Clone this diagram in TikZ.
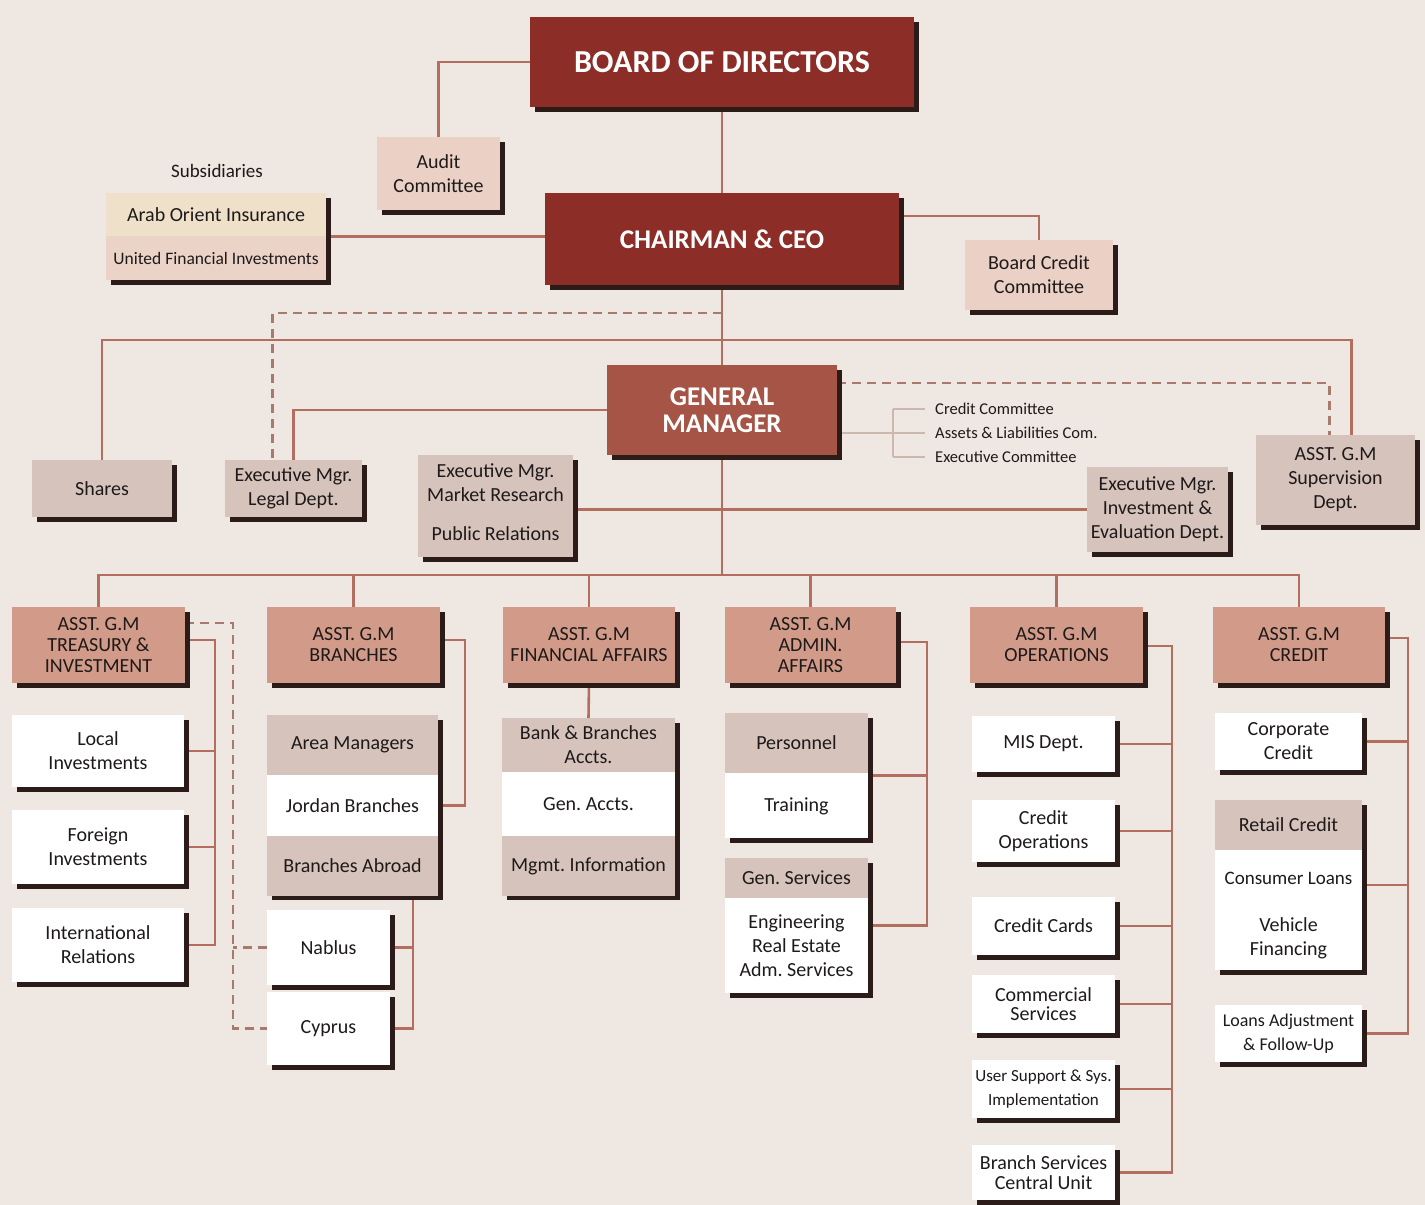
\documentclass[tikz,border=0pt]{standalone}
\usepackage{fontspec}
\setmainfont{Carlito}
\frenchspacing
\usepackage{tikz}
\usetikzlibrary{positioning, shadows, backgrounds}
\usepackage{xcolor}
\definecolor{bgc}{HTML}{EFE7E1}
\definecolor{boardred}{HTML}{8C2D28}
\definecolor{gmred}{HTML}{A65446}
\definecolor{asstc}{HTML}{D29B89}
\definecolor{lpink}{HTML}{EAD0C5}
\definecolor{greyp}{HTML}{D6C3BC}
\definecolor{subsY}{HTML}{EEE0C9}
\definecolor{subsP}{HTML}{ECD3C8}
\definecolor{linec}{HTML}{B46E5F}
\definecolor{dashc}{HTML}{A87A6E}
\definecolor{commc}{HTML}{CDB8AF}
\definecolor{shadc}{HTML}{2B1C19}
\definecolor{inkc}{HTML}{1E1A1A}
\tikzset{
    % Colors
    fillBoard/.style={fill=boardred},
    fillGM/.style={fill=gmred},
    fillPink/.style={fill=lpink},
    fillGrey/.style={fill=greyp},
    fillWhite/.style={fill=white},
    % Shapes
    orgbox/.style={rectangle, inner sep=2pt, align=center, text=inkc,
                   font=\fontsize{20}{24}\selectfont,
                   drop shadow={shadow xshift=5pt, shadow yshift=-5pt, opacity=1, fill=shadc}},
    headbox/.style={orgbox, fillBoard, text=white, font=\fontsize{27}{27}\selectfont\bfseries},
    asstbox/.style={orgbox, fill=asstc, minimum height=76, font=\fontsize{20}{21}\selectfont},
    unitbox/.style={orgbox, fillWhite},
    grpbox/.style={orgbox, fillWhite},
    cellbox/.style={rectangle, inner sep=2pt, align=center, text=inkc,
                    font=\fontsize{20}{24}\selectfont, minimum width=#1},
    cellbox/.default=150,
    comtext/.style={inner sep=2pt, text=inkc, font=\fontsize{16.5}{18}\selectfont},
    % Connectors
    conn/.style={draw=linec, line width=2.6pt},
    dconn/.style={draw=dashc, line width=2.6pt, dash pattern=on 9pt off 6pt},
    cconn/.style={draw=commc, line width=1.3pt}
}
\begin{document}
\begin{tikzpicture}[x=1pt, y=-1pt]
\useasboundingbox (0,0) rectangle (1425,1205);
\begin{scope}[on background layer]
    \fill[bgc] (0,0) rectangle (1425,1205);
\end{scope}

% board, chairman, general manager
\node[headbox, minimum width=384, minimum height=90, font=\fontsize{32}{32}\selectfont\bfseries] (board) at (722,62) {BOARD OF DIRECTORS};
\node[headbox, minimum width=354, minimum height=92] (chair) at (722,239) {CHAIRMAN \& CEO};
\node[headbox, fillGM, minimum width=230, minimum height=90] (gm) at (722,410) {GENERAL\\MANAGER};
\node[orgbox, fillPink, minimum width=123, minimum height=73] (audit) at (438.5,173.5) {Audit\\Committee};
\node[orgbox, fillPink, minimum width=148, minimum height=70] (bcc) at (1039,275) {Board Credit\\Committee};

% subsidiaries
\node[text=inkc, font=\fontsize{19}{19}\selectfont] (subslbl) at (217,171) {Subsidiaries};
\node[grpbox, minimum width=220, minimum height=87] (subs) at (216,236.5) {};
\node[cellbox=220, fill=subsY, minimum height=43, anchor=north] (aoi) at (subs.north) {Arab Orient Insurance};
\node[cellbox=220, fill=subsP, minimum height=44, below=0pt of aoi, font=\fontsize{17.5}{20}\selectfont] (ufi) {United Financial Investments};

% staff units
\node[orgbox, fillGrey, minimum width=140, minimum height=57] (shares) at (102,488.5) {Shares};
\node[orgbox, fillGrey, minimum width=137, minimum height=57] (legal) at (293.5,488.5) {Executive Mgr.\\Legal Dept.};
\node[grpbox, fillGrey, minimum width=155, minimum height=102] (mr) at (495.5,506) {};
\node[cellbox=155, minimum height=55, anchor=north] (mktres) at (mr.north) {Executive Mgr.\\Market Research};
\node[cellbox=155, minimum height=47, below=0pt of mktres] (pubrel) {Public Relations};
\node[orgbox, fillGrey, minimum width=141, minimum height=85] (inv) at (1157.5,509.5) {Executive Mgr.\\Investment \&\\Evaluation Dept.};
\node[orgbox, fillGrey, minimum width=159, minimum height=90] (sup) at (1335.5,480) {ASST. G.M\\Supervision\\Dept.};

\node[comtext, anchor=west] (ccom) at (933,409) {Credit Committee};
\node[comtext, anchor=west] (alcom) at (933,433) {Assets \& Liabilities Com.};
\node[comtext, anchor=west] (excom) at (933,457) {Executive Committee};

% assistant general managers
\node[asstbox, minimum width=173] (tre) at (98.5,645) {ASST. G.M\\TREASURY \&\\INVESTMENT};
\node[asstbox, minimum width=173] (bra) at (353.5,645) {ASST. G.M\\BRANCHES};
\node[asstbox, minimum width=172] (fin) at (589,645) {ASST. G.M\\FINANCIAL AFFAIRS};
\node[asstbox, minimum width=171] (adm) at (810.5,645) {ASST. G.M\\ADMIN.\\AFFAIRS};
\node[asstbox, minimum width=173] (ops) at (1056.5,645) {ASST. G.M\\OPERATIONS};
\node[asstbox, minimum width=172] (cre) at (1299,645) {ASST. G.M\\CREDIT};

% treasury
\node[unitbox, minimum width=172, minimum height=72] (local) at (98,751) {Local\\Investments};
\node[unitbox, minimum width=172, minimum height=74] (foreign) at (98,847) {Foreign\\Investments};
\node[unitbox, minimum width=172, minimum height=74] (intl) at (98,945) {International\\Relations};

% branches
\node[grpbox, minimum width=171, minimum height=180] (brgrp) at (352.5,805) {};
\node[cellbox=171, fillGrey, minimum height=60, anchor=north] (areamgr) at (brgrp.north) {Area Managers};
\node[cellbox=171, minimum height=60, below=0pt of areamgr] (jordan) {Jordan Branches};
\node[cellbox=171, fillGrey, minimum height=60, below=0pt of jordan] (abroad) {Branches Abroad};
\node[unitbox, minimum width=123, minimum height=75] (nablus) at (328.5,947.5) {Nablus};
\node[unitbox, minimum width=123, minimum height=73] (cyprus) at (328.5,1028.5) {Cyprus};

% financial affairs
\node[grpbox, minimum width=173, minimum height=177] (fingrp) at (588.5,806.5) {};
\node[cellbox=173, fillGrey, minimum height=54, anchor=north] (bbacc) at (fingrp.north) {Bank \& Branches\\Accts.};
\node[cellbox=173, minimum height=63, below=0pt of bbacc] (genacc) {Gen. Accts.};
\node[cellbox=173, fillGrey, minimum height=60, below=0pt of genacc] (mgmtinf) {Mgmt. Information};

% admin affairs
\node[grpbox, minimum width=143, minimum height=125] (adm1) at (796.5,775.5) {};
\node[cellbox=143, fillGrey, minimum height=60, anchor=north] (pers) at (adm1.north) {Personnel};
\node[cellbox=143, minimum height=65, below=0pt of pers] (train) {Training};
\node[grpbox, minimum width=143, minimum height=135] (adm2) at (796.5,925.5) {};
\node[cellbox=143, fillGrey, minimum height=40, anchor=north] (gensrv) at (adm2.north) {Gen. Services};
\node[cellbox=143, minimum height=95, below=0pt of gensrv] (engsrv) {Engineering\\Real Estate\\Adm. Services};

% operations
\node[unitbox, minimum width=143, minimum height=56] (mis) at (1043.5,744) {MIS Dept.};
\node[unitbox, minimum width=143, minimum height=62] (crop) at (1043.5,831) {Credit\\Operations};
\node[unitbox, minimum width=143, minimum height=58] (ccard) at (1043.5,926) {Credit Cards};
\node[unitbox, minimum width=143, minimum height=58, font=\fontsize{20}{19}\selectfont] (comm) at (1043.5,1004) {Commercial\\Services};
\node[unitbox, minimum width=143, minimum height=58, font=\fontsize{17}{24}\selectfont] (usup) at (1043.5,1089) {User Support \& Sys.\\Implementation};
\node[unitbox, minimum width=143, minimum height=55, font=\fontsize{20}{20}\selectfont] (bscu) at (1043.5,1172.5) {Branch Services\\Central Unit};

% credit
\node[unitbox, minimum width=147, minimum height=57] (corp) at (1288.5,741.5) {Corporate\\Credit};
\node[grpbox, minimum width=147, minimum height=170] (retgrp) at (1288.5,885) {};
\node[cellbox=147, fillGrey, minimum height=50, anchor=north] (retail) at (retgrp.north) {Retail Credit};
\node[cellbox=147, minimum height=55, below=0pt of retail, font=\fontsize{19}{24}\selectfont] (consl) {Consumer Loans};
\node[cellbox=147, minimum height=65, below=0pt of consl] (vehfin) {Vehicle\\Financing};
\node[unitbox, minimum width=147, minimum height=57, font=\fontsize{18}{24}\selectfont] (loans) at (1288.5,1033.5) {Loans Adjustment\\\& Follow-Up};

% bus points
\coordinate (bus1) at (722,340);
\coordinate (bus2) at (722,575);
\coordinate (dash1) at (722,313);
\coordinate (cbar) at (893,433);
\coordinate (trebus) at (215,640);
\coordinate (tredash) at (233,623);
\coordinate (brabus) at (465,640);
\coordinate (nbus) at (413,900);
\coordinate (admbus) at (927,642);
\coordinate (opsbus) at (1172,646);
\coordinate (crebus) at (1408,638);

\begin{scope}[on background layer]
% line of command
\draw[conn] (board.south) -- (chair.north);
\draw[conn] (chair.south) -- (gm.north);
\draw[conn] (gm.south) -- (bus2);
\draw[conn] (board.west) -| (audit.north);
\draw[conn] (subs.east) -- (subs.east -| chair.west);
\draw[conn] ([yshift=23pt]chair.east) -| (bcc.north);

% staff units
\draw[conn] (shares.north) |- (bus1) -| ([xshift=16pt]sup.north);
\draw[dconn] (dash1) -| ([xshift=-21pt]legal.north);
\draw[conn] (gm.west) -| (legal.north);
\draw[dconn] ([yshift=27pt]gm.east) -| ([xshift=-6pt]sup.north);
\draw[conn] (inv.west -| mr.east) -- (inv.west);
\draw[cconn] (gm.east |- cbar) -- (cbar);
\draw[cconn] (cbar |- ccom.west) -- (cbar |- excom.west);
\foreach \c in {ccom,alcom,excom}
    \draw[cconn] (cbar |- \c.west) -- ([xshift=-8pt]\c.west);

% assistant general managers
\draw[conn] (tre.north) |- (bus2) -| (cre.north);
\foreach \u in {bra,fin,adm,ops}
    \draw[conn] (\u.north) -- (\u.north |- bus2);

% departments
\draw[conn] (tre.east |- trebus) -- (trebus) |- (intl.east);
\foreach \u in {local,foreign}
    \draw[conn] (\u.east) -- (\u.east -| trebus);
\draw[dconn] (tre.east |- tredash) -- (tredash) |- (cyprus.west);
\draw[dconn] (nablus.west) -- (nablus.west -| tredash);
\draw[conn] (bra.east |- brabus) -- (brabus) |- (jordan.east);
\draw[conn] (brgrp.south -| nbus) |- (cyprus.east);
\draw[conn] (nablus.east) -- (nablus.east -| nbus);
\draw[conn] (fin.south) -- (fingrp.north);
\draw[conn] (adm.east |- admbus) -- (admbus) |- (adm2.east);
\draw[conn] (adm1.east) -- (adm1.east -| admbus);
\draw[conn] (ops.east |- opsbus) -- (opsbus) |- (bscu.east);
\foreach \u in {mis,crop,ccard,comm,usup}
    \draw[conn] (\u.east) -- (\u.east -| opsbus);
\draw[conn] (cre.east |- crebus) -- (crebus) |- (loans.east);
\foreach \u in {corp,retgrp}
    \draw[conn] (\u.east) -- (\u.east -| crebus);
\end{scope}

\end{tikzpicture}
\end{document}
